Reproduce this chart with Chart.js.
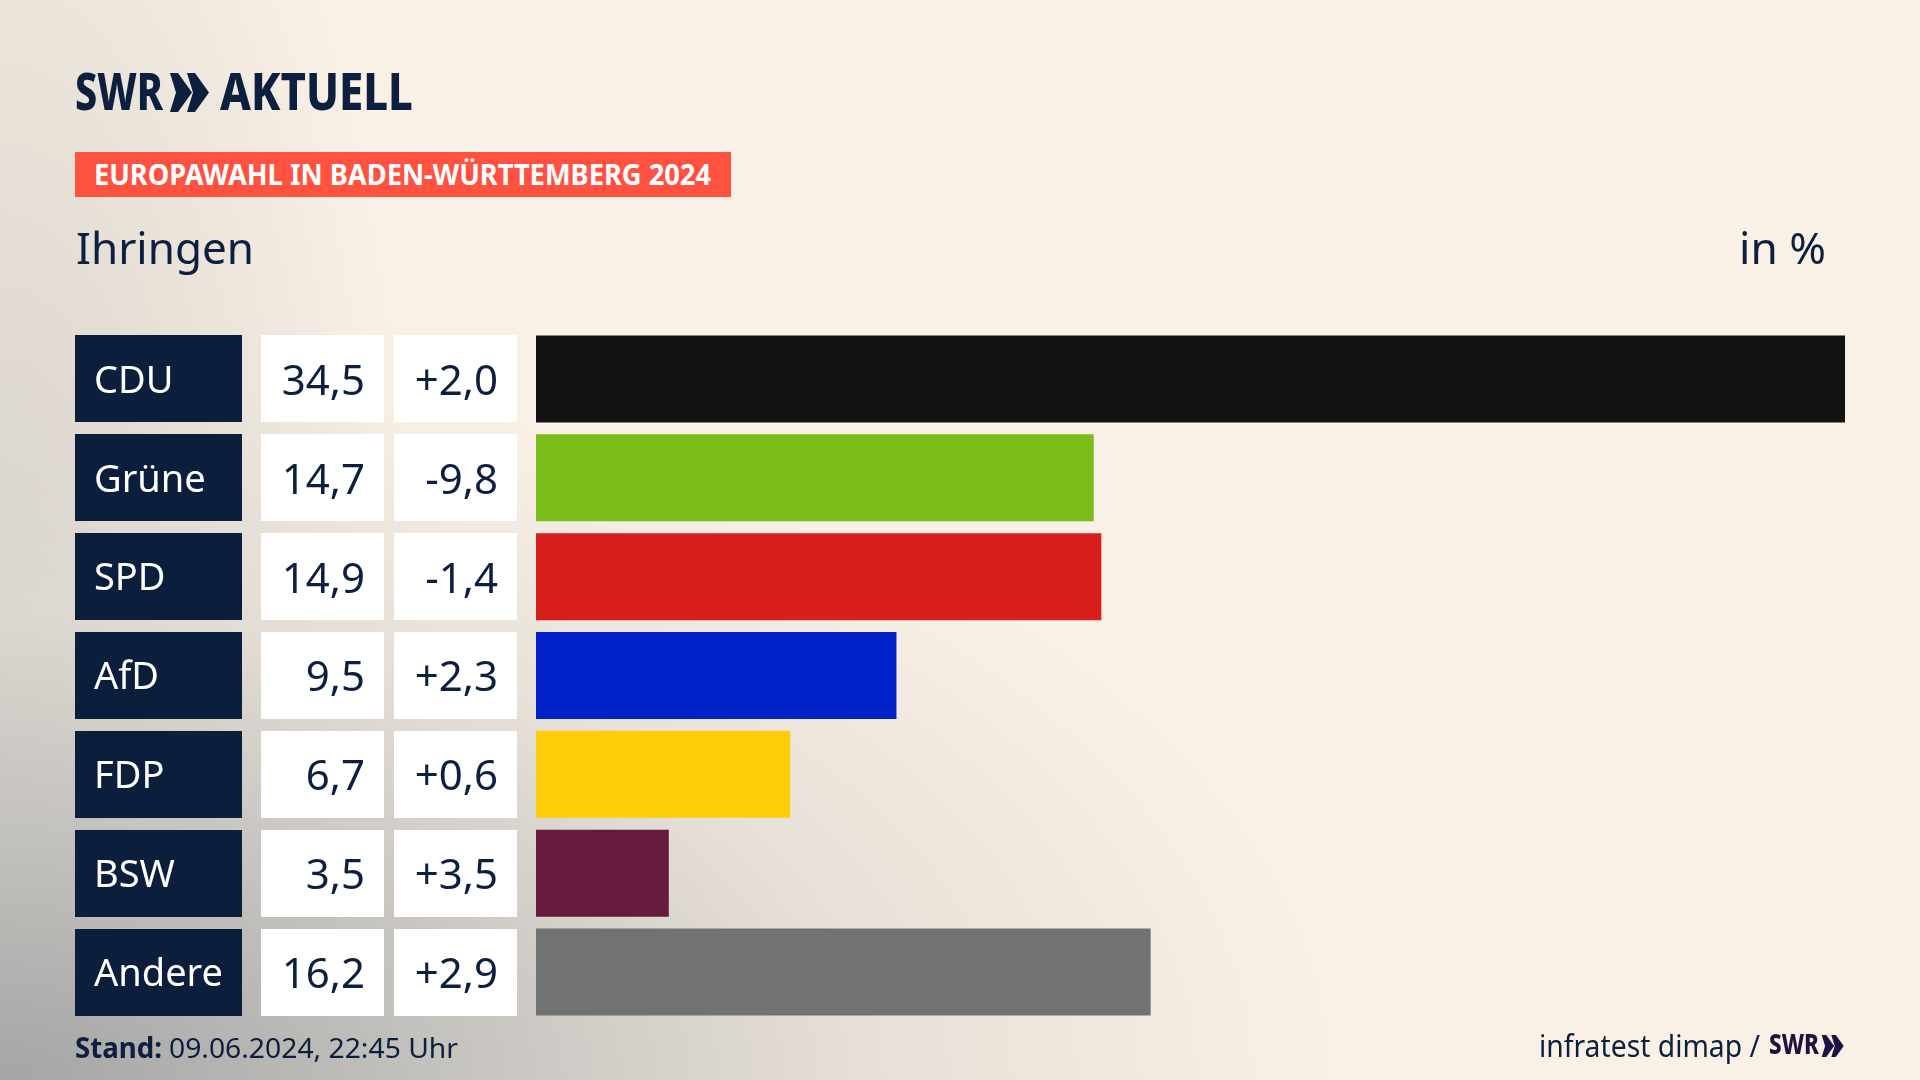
<!DOCTYPE html>
<html lang="de">
<head>
<meta charset="utf-8">
<title>Europawahl in Baden-Württemberg 2024 – Ihringen</title>
<script src="https://cdn.jsdelivr.net/npm/chart.js@4"></script>
<style>
html,body{margin:0;padding:0;width:1920px;height:1080px;overflow:hidden;background:#faf1e6;}
#bg{position:absolute;left:0;top:0;width:1920px;height:1080px;
 background:
  radial-gradient(ellipse 1350px 720px at 0px 1080px, rgba(165,165,165,1) 0%, rgba(195,193,189,.93) 35%, rgba(224,218,211,.72) 65%, rgba(250,241,230,0) 100%),
  radial-gradient(ellipse 430px 1250px at 0px 800px, rgba(205,202,197,.95) 0%, rgba(225,219,211,.7) 55%, rgba(250,241,230,0) 100%),
  #faf1e6;}
canvas{position:absolute;left:0;top:0;}
.t{position:absolute;white-space:nowrap;transform-origin:0 0;line-height:1;font-family:"Noto Sans",sans-serif;color:#0c1f3f;}
#banner{position:absolute;left:75px;top:152px;width:656px;height:45px;background:#ff5240;}
svg{position:absolute;}
</style>
</head>
<body>
<div id="bg"></div>
<canvas id="c" width="1920" height="1080"></canvas>
<div class="t" id="swr" style="left:75px;top:65px;font-size:51px;font-weight:800;" data-w="88">SWR</div>
<svg style="left:170px;top:73px" width="40" height="39" viewBox="0 0 40 39"><path fill="#0c1f3f" d="M0 0L8 0 22 19.5 8 39 0 39 6 19.5zM17 0L25 0 39 19.5 25 39 17 39 23 19.5z"/></svg>
<div class="t" id="akt" style="left:220px;top:65px;font-size:51px;font-weight:800;" data-w="193">AKTUELL</div>
<div id="banner"></div>
<div class="t" id="bt" style="left:94px;top:160px;font-size:28px;font-weight:700;color:#fff;" data-w="617">EUROPAWAHL IN BADEN-WÜRTTEMBERG 2024</div>
<div class="t" id="place" style="left:76px;top:225px;font-size:44px;" data-w="178">Ihringen</div>
<div class="t" id="unit" style="left:1739px;top:225px;font-size:44px;" data-w="87">in %</div>
<div class="t" id="st" style="left:75px;top:1033px;font-size:28px;font-weight:700;" data-w="87">Stand:</div>
<div class="t" id="date" style="left:169px;top:1033px;font-size:28px;" data-w="289">09.06.2024, 22:45 Uhr</div>
<div class="t" id="src" style="left:1539px;top:1031px;font-size:30px;" data-w="221">infratest dimap /</div>
<div class="t" id="swr2" style="left:1769px;top:1028px;font-size:29px;font-weight:800;color:#1f1240;" data-w="50">SWR</div>
<svg style="left:1821px;top:1035px" width="24" height="22" viewBox="0 0 40 39"><path fill="#1f1240" d="M0 0L8 0 22 19.5 8 39 0 39 6 19.5zM17 0L25 0 39 19.5 25 39 17 39 23 19.5z"/></svg>
<script>
const categories = ["CDU","Grüne","SPD","AfD","FDP","BSW","Andere"];
const shares = [34.5,14.7,14.9,9.5,6.7,3.5,16.2];
const changes = [2.0,-9.8,-1.4,2.3,0.6,3.5,2.9];
const barColors = ["#121212","#7abd1a","#d7201e","#0022c8","#ffcd0a","#661a3d","#707274"];

const fmt = v => v.toFixed(1).replace(".",",");
const fmtChange = v => (v>0?"+":"")+fmt(v);
const navy = "#0b1f3d";
const rowH = 87;

const rowBoxes = {
  id:"rowBoxes",
  beforeDraw(chart){
    const {ctx,scales:{y}} = chart;
    ctx.save();
    categories.forEach((c,i)=>{
      const top = Math.round(y.getPixelForValue(i)-rowH/2);
      ctx.fillStyle = navy; ctx.fillRect(75,top,167,rowH);
      ctx.fillStyle = "#fff"; ctx.fillRect(261,top,123,rowH); ctx.fillRect(394,top,123,rowH);
    });
    ctx.restore();
  },
  afterDatasetsDraw(chart){
    const {ctx,scales:{y}} = chart;
    ctx.save();
    ctx.font = '42px "Noto Sans"';
    ctx.fillStyle = "#0c1f3f";
    ctx.textAlign = "right";
    ctx.textBaseline = "middle";
    categories.forEach((c,i)=>{
      const py = y.getPixelForValue(i);
      ctx.fillText(fmt(shares[i]),365,py+4);
      ctx.fillText(fmtChange(changes[i]),498,py+4);
    });
    ctx.restore();
  }
};

new Chart(document.getElementById("c"),{
  type:"bar",
  data:{labels:categories,datasets:[{data:shares,backgroundColor:barColors,barThickness:rowH,inflateAmount:0,borderWidth:0}]},
  options:{
    indexAxis:"y",responsive:false,animation:false,devicePixelRatio:1,
    layout:{padding:{left:94,right:75,top:329.58,bottom:58.58}},
    plugins:{legend:{display:false},tooltip:{enabled:false}},
    scales:{
      x:{display:false,min:0,max:34.5},
      y:{
        grid:{display:false},border:{display:false},
        afterFit(s){s.width=442;},
        ticks:{color:"#fff",padding:0,crossAlign:"far",autoSkip:false,labelOffset:3,font:{family:"Noto Sans",size:38}}
      }
    }
  },
  plugins:[rowBoxes]
});

document.fonts.ready.then(()=>{
  document.querySelectorAll(".t").forEach(el=>{
    const w = el.getBoundingClientRect().width;
    el.style.transform = "scaleX("+(el.dataset.w/w)+")";
  });
});
</script>
</body>
</html>
